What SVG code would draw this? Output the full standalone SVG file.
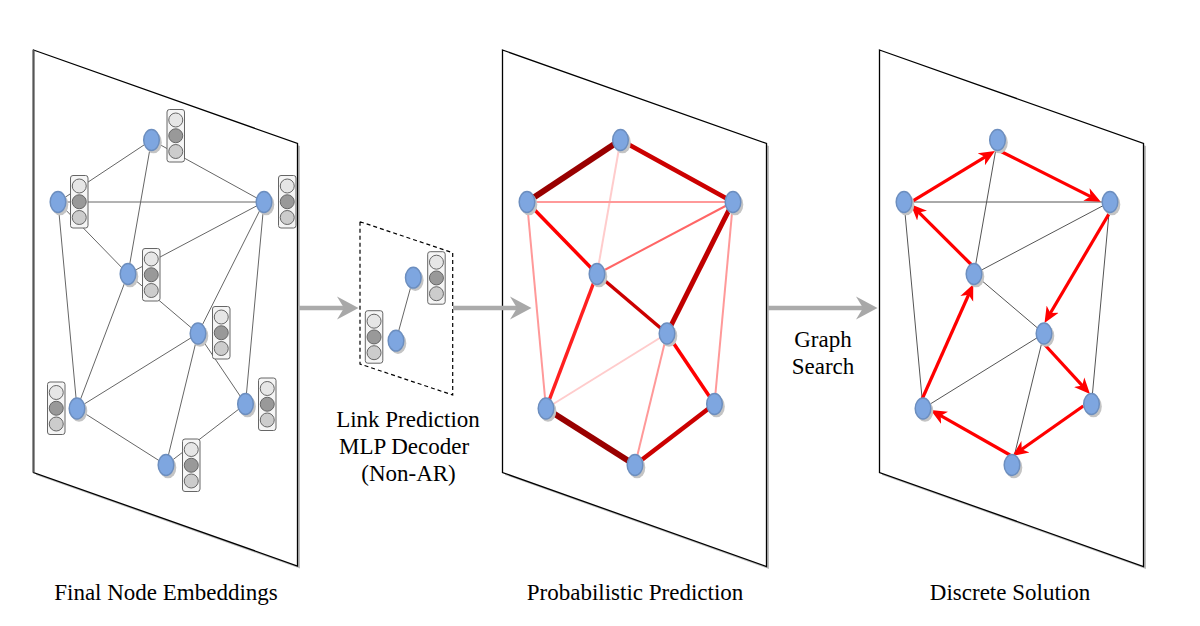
<svg xmlns="http://www.w3.org/2000/svg" xmlns:xlink="http://www.w3.org/1999/xlink" width="1200" height="626" viewBox="0 0 1200 626">
<style>
.panel{fill:#fff;stroke:#000;stroke-width:1.3}
.pshadow{fill:#bdbdbd;stroke:none}
.e1{stroke:#666;stroke-width:1;fill:none}
.e3{stroke:#555;stroke-width:1;fill:none}
.tour{stroke:#ff0000;stroke-width:3.2;fill:none;marker-end:url(#ah)}
.garrow{stroke:#ababab;stroke-width:4.5;fill:none}
.ghead{fill:#a8a8a8;stroke:none}
.lbl{font-family:"Liberation Serif","Times New Roman",serif;font-size:23px;fill:#000;text-anchor:middle}
</style>
<defs>
<marker id="ah" markerUnits="userSpaceOnUse" markerWidth="18" markerHeight="16" viewBox="0 -8 18 16" refX="7" refY="0" orient="auto">
<path d="M0,-7 L16,0 L0,7 L4.5,0 Z" fill="#ff0000"/>
</marker>
<g id="nd">
<ellipse cx="2" cy="2.5" rx="8.3" ry="10.8" fill="#c4c4c4"/>
<ellipse cx="0" cy="0" rx="7.8" ry="10.4" fill="#7ea6e0" stroke="#6c8ebf" stroke-width="1.5"/>
</g>
<g id="emb">
<rect x="0" y="0" width="17.5" height="52.5" rx="2.5" fill="#f5f5f5" stroke="#666" stroke-width="1"/>
<circle cx="8.75" cy="10.5" r="7" fill="#e6e6e6" stroke="#666" stroke-width="1"/>
<circle cx="8.75" cy="26.25" r="7" fill="#999999" stroke="#666" stroke-width="1"/>
<circle cx="8.75" cy="42" r="7" fill="#cccccc" stroke="#666" stroke-width="1"/>
</g>
</defs>

<!-- panels -->
<g id="panel1">
<polygon class="pshadow" points="36,52.5 300,146 300,568.5 36,475"/>
<polygon class="panel" points="33.5,50 297.5,143.5 297.5,566 33.5,472.5"/>
<line x1="33.5" y1="50" x2="33.5" y2="472.5" stroke="#555" stroke-width="2"/>
</g>
<g id="panel2">
<polygon class="pshadow" points="505,52.5 769,146 769,569 505,475"/>
<polygon class="panel" points="502.5,50 766.5,143.5 766.5,566.5 502.5,472.5"/>
</g>
<g id="panel3">
<polygon class="pshadow" points="882,52.5 1146,146 1146,569 882,475"/>
<polygon class="panel" points="879.5,50 1143.5,143.5 1143.5,566.5 879.5,472.5"/>
</g>
<g id="decoder-frame">
<polygon points="360,221.7 452.7,252.7 452.7,395 360,364" fill="none" stroke="#000" stroke-width="1.2" stroke-dasharray="4,3"/>
</g>

<!-- connectors -->
<g id="connectors">
<!-- panel 1 -->
<line class="e1" x1="151.5" y1="140" x2="58" y2="202"/>
<line class="e1" x1="151.5" y1="140" x2="264" y2="202"/>
<line class="e1" x1="151.5" y1="140" x2="128" y2="274"/>
<line class="e1" x1="58" y1="202" x2="264" y2="202"/>
<line class="e1" x1="58" y1="202" x2="128" y2="274"/>
<line class="e1" x1="58" y1="202" x2="77" y2="408.5"/>
<line class="e1" x1="264" y1="202" x2="128" y2="274"/>
<line class="e1" x1="264" y1="202" x2="198" y2="333.5"/>
<line class="e1" x1="264" y1="202" x2="245.5" y2="404"/>
<line class="e1" x1="128" y1="274" x2="198" y2="333.5"/>
<line class="e1" x1="128" y1="274" x2="77" y2="408.5"/>
<line class="e1" x1="198" y1="333.5" x2="77" y2="408.5"/>
<line class="e1" x1="198" y1="333.5" x2="245.5" y2="404"/>
<line class="e1" x1="198" y1="333.5" x2="166" y2="465"/>
<line class="e1" x1="77" y1="408.5" x2="166" y2="465"/>
<line class="e1" x1="245.5" y1="404" x2="166" y2="465"/>
<!-- decoder -->
<line class="e1" x1="413.3" y1="277.7" x2="396" y2="340.7"/>
<!-- panel 2 -->
<line x1="620.5" y1="140" x2="597" y2="274" stroke="#ffcccc" stroke-width="2"/>
<line x1="527" y1="202" x2="733" y2="202" stroke="#ff9999" stroke-width="2"/>
<line x1="527" y1="202" x2="546" y2="408.5" stroke="#ff9999" stroke-width="2"/>
<line x1="733" y1="202" x2="597" y2="274" stroke="#ff6666" stroke-width="2"/>
<line x1="733" y1="202" x2="714.5" y2="404" stroke="#ff9999" stroke-width="2"/>
<line x1="667" y1="333.5" x2="546" y2="408.5" stroke="#ffcccc" stroke-width="2"/>
<line x1="667" y1="333.5" x2="635" y2="465" stroke="#ff9999" stroke-width="2"/>
<line x1="527" y1="202" x2="597" y2="274" stroke="#ff0000" stroke-width="3.5"/>
<line x1="597" y1="274" x2="667" y2="333.5" stroke="#cc0000" stroke-width="3.5"/>
<line x1="597" y1="274" x2="546" y2="408.5" stroke="#ff2020" stroke-width="3.5"/>
<line x1="667" y1="333.5" x2="714.5" y2="404" stroke="#ff0000" stroke-width="3.5"/>
<line x1="620.5" y1="140" x2="733" y2="202" stroke="#cc0000" stroke-width="4.5"/>
<line x1="714.5" y1="404" x2="635" y2="465" stroke="#cc0000" stroke-width="4.5"/>
<line x1="733" y1="202" x2="667" y2="333.5" stroke="#c00000" stroke-width="5"/>
<line x1="620.5" y1="140" x2="527" y2="202" stroke="#990000" stroke-width="6"/>
<line x1="546" y1="408.5" x2="635" y2="465" stroke="#990000" stroke-width="6"/>
<!-- panel 3 grey -->
<line class="e3" x1="997.5" y1="140" x2="974" y2="274"/>
<line class="e3" x1="904" y1="202" x2="1110" y2="202"/>
<line class="e3" x1="1110" y1="202" x2="974" y2="274"/>
<line class="e3" x1="904" y1="202" x2="923" y2="408.5"/>
<line class="e3" x1="1110" y1="202" x2="1091.5" y2="404"/>
<line class="e3" x1="974" y1="274" x2="1044" y2="333.5"/>
<line class="e3" x1="1044" y1="333.5" x2="923" y2="408.5"/>
<line class="e3" x1="1044" y1="333.5" x2="1012" y2="465"/>
<!-- panel 3 tour -->
<line class="tour" x1="911.7" y1="201.7" x2="987.3" y2="155.7"/>
<line class="tour" x1="1000" y1="151" x2="1092.7" y2="197.6"/>
<line class="tour" x1="1109.3" y1="213.3" x2="1049.1" y2="315.2"/>
<line class="tour" x1="1045" y1="345" x2="1083.9" y2="387.4"/>
<line class="tour" x1="1083.3" y1="406" x2="1019.7" y2="450.8"/>
<line class="tour" x1="1010" y1="455" x2="938.5" y2="414.4"/>
<line class="tour" x1="921.7" y1="400" x2="969.6" y2="292.5"/>
<line class="tour" x1="971.7" y1="265" x2="917.1" y2="210.7"/>
<!-- grey flow arrows -->
<line class="garrow" x1="298" y1="308" x2="345" y2="308"/>
<path class="ghead" d="M337,296.5 L358.5,308 L337,319.5 L344,308 Z"/>
<line class="garrow" x1="453" y1="308" x2="518" y2="308"/>
<path class="ghead" d="M510,296.5 L531.5,308 L510,319.5 L517,308 Z"/>
<line class="garrow" x1="768" y1="308" x2="864" y2="308"/>
<path class="ghead" d="M856,296.5 L877.5,308 L856,319.5 L863,308 Z"/>
</g>

<!-- panel 1 nodes -->
<g id="p1-A"><use xlink:href="#nd" x="151.5" y="140"/><use xlink:href="#emb" x="167" y="109.5"/></g>
<g id="p1-B"><use xlink:href="#nd" x="58" y="202"/><use xlink:href="#emb" x="70.5" y="175.5"/></g>
<g id="p1-C"><use xlink:href="#nd" x="264" y="202"/><use xlink:href="#emb" x="278.5" y="175.5"/></g>
<g id="p1-D"><use xlink:href="#nd" x="128" y="274"/><use xlink:href="#emb" x="142.5" y="248.5"/></g>
<g id="p1-E"><use xlink:href="#nd" x="198" y="333.5"/><use xlink:href="#emb" x="212.5" y="306.5"/></g>
<g id="p1-F"><use xlink:href="#nd" x="77" y="408.5"/><use xlink:href="#emb" x="47.5" y="382"/></g>
<g id="p1-G"><use xlink:href="#nd" x="245.5" y="404"/><use xlink:href="#emb" x="258.5" y="378"/></g>
<g id="p1-H"><use xlink:href="#nd" x="166" y="465"/><use xlink:href="#emb" x="182.5" y="439"/></g>

<!-- decoder nodes -->
<g id="dec-1"><use xlink:href="#nd" x="413.3" y="277.7"/><use xlink:href="#emb" x="427.7" y="251.7"/></g>
<g id="dec-2"><use xlink:href="#nd" x="396" y="340.7"/><use xlink:href="#emb" x="365.3" y="310.7"/></g>

<!-- panel 2 nodes -->
<g id="p2-A"><use xlink:href="#nd" x="620.5" y="140"/></g>
<g id="p2-B"><use xlink:href="#nd" x="527" y="202"/></g>
<g id="p2-C"><use xlink:href="#nd" x="733" y="202"/></g>
<g id="p2-D"><use xlink:href="#nd" x="597" y="274"/></g>
<g id="p2-E"><use xlink:href="#nd" x="667" y="333.5"/></g>
<g id="p2-F"><use xlink:href="#nd" x="546" y="408.5"/></g>
<g id="p2-G"><use xlink:href="#nd" x="714.5" y="404"/></g>
<g id="p2-H"><use xlink:href="#nd" x="635" y="465"/></g>

<!-- panel 3 nodes -->
<g id="p3-A"><use xlink:href="#nd" x="997.5" y="140"/></g>
<g id="p3-B"><use xlink:href="#nd" x="904" y="202"/></g>
<g id="p3-C"><use xlink:href="#nd" x="1110" y="202"/></g>
<g id="p3-D"><use xlink:href="#nd" x="974" y="274"/></g>
<g id="p3-E"><use xlink:href="#nd" x="1044" y="333.5"/></g>
<g id="p3-F"><use xlink:href="#nd" x="923" y="408.5"/></g>
<g id="p3-G"><use xlink:href="#nd" x="1091.5" y="404"/></g>
<g id="p3-H"><use xlink:href="#nd" x="1012" y="465"/></g>

<!-- labels -->
<g id="labels">
<text class="lbl" x="166" y="600">Final Node Embeddings</text>
<text class="lbl" x="408" y="426.5">Link Prediction</text>
<text class="lbl" x="404" y="454">MLP Decoder</text>
<text class="lbl" x="408.5" y="481">(Non-AR)</text>
<text class="lbl" x="823" y="347">Graph</text>
<text class="lbl" x="823" y="374">Search</text>
<text class="lbl" x="635" y="600">Probabilistic Prediction</text>
<text class="lbl" x="1010" y="600">Discrete Solution</text>
</g>
</svg>
